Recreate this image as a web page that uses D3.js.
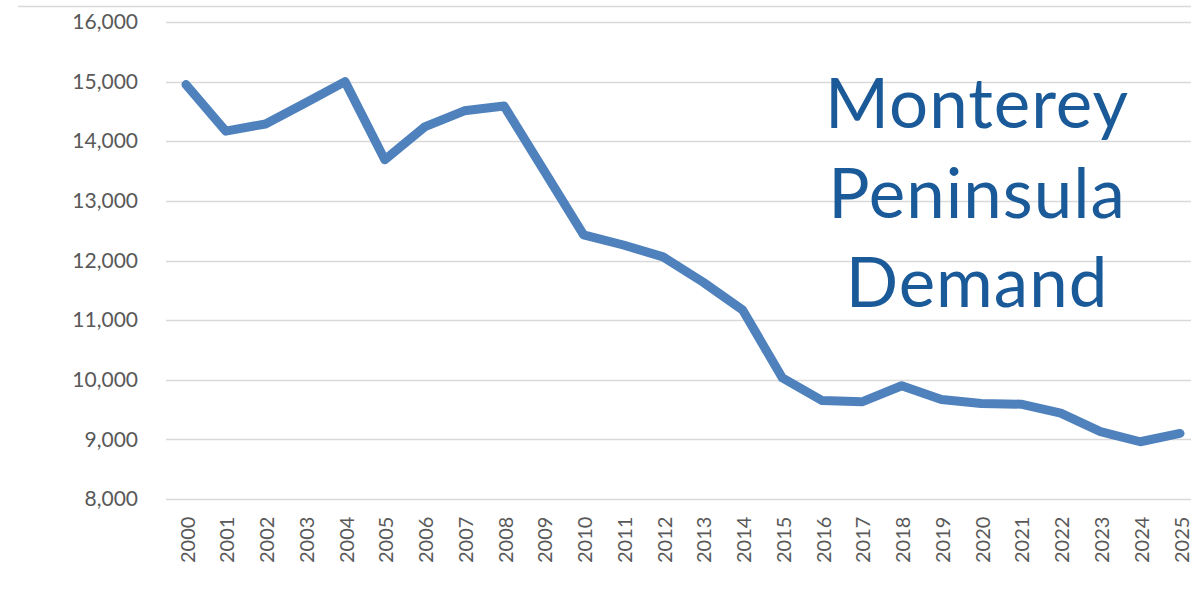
<!DOCTYPE html>
<html>
<head>
<meta charset="utf-8">
<script src="https://cdn.jsdelivr.net/npm/d3@7"></script>
<style>
  html, body { margin: 0; padding: 0; background: #ffffff; }
  svg { display: block; }
</style>
</head>
<body>
<svg id="chart" width="1191" height="606"></svg>
<script>
// Annual demand, Monterey Peninsula
const years = ["2000","2001","2002","2003","2004","2005","2006","2007","2008","2009",
               "2010","2011","2012","2013","2014","2015","2016","2017","2018","2019",
               "2020","2021","2022","2023","2024","2025"];
const demand = [14950, 14170, 14290, 14640, 15000, 13690, 14240, 14510, 14590, 13510,
                12430, 12260, 12060, 11640, 11170, 10030, 9650, 9630, 9900, 9670,
                9600, 9590, 9440, 9130, 8960, 9100];
const yTicks = [8000, 9000, 10000, 11000, 12000, 13000, 14000, 15000, 16000];
const titleLines = ["Monterey", "Peninsula", "Demand"];

const svg = d3.select("#chart");
const W = 1191;
const fontFam = "Lato, 'Open Sans', sans-serif";

// chart frame line at top
svg.append("line")
  .attr("x1", 18).attr("x2", W)
  .attr("y1", 6.5).attr("y2", 6.5)
  .attr("stroke", "#d9d9d9").attr("stroke-width", 1.5);

const plotLeft = 166, plotRight = W;
const x = d3.scalePoint().domain(years).range([186, 1180]);
const y = d3.scaleLinear().domain([8000, 16000]).range([499, 22]);

// gridlines
svg.append("g")
  .selectAll("line")
  .data(yTicks)
  .join("line")
  .attr("x1", plotLeft).attr("x2", plotRight)
  .attr("y1", d => Math.round(y(d)) + 0.5)
  .attr("y2", d => Math.round(y(d)) + 0.5)
  .attr("stroke", "#d9d9d9").attr("stroke-width", 1.5);

// y axis labels
const yAxis = d3.axisLeft(y).tickValues(yTicks).tickFormat(d3.format(",")).tickSize(0).tickPadding(0);
const gy = svg.append("g").attr("transform", "translate(138,0)").call(yAxis);
gy.select(".domain").remove();
gy.selectAll("text")
  .attr("font-family", fontFam).attr("font-size", 21).attr("fill", "#595959");

// x axis labels, rotated to read bottom-up
const xAxis = d3.axisBottom(x).tickSize(0).tickPadding(0);
const gx = svg.append("g").call(xAxis);
gx.select(".domain").remove();
gx.selectAll(".tick text")
  .attr("font-family", fontFam).attr("font-size", 20).attr("fill", "#595959")
  .attr("dy", null)
  .attr("dominant-baseline", "central")
  .attr("transform", "rotate(-90)")
  .attr("x", -563).attr("y", 0)
  .attr("text-anchor", "start");

// demand line
const line = d3.line().x((d, i) => x(years[i])).y(d => y(d));
svg.append("path")
  .datum(demand)
  .attr("d", line)
  .attr("fill", "none")
  .attr("stroke", "#4f81bd")
  .attr("stroke-width", 9)
  .attr("stroke-linejoin", "round")
  .attr("stroke-linecap", "round");

// title block
svg.append("g")
  .selectAll("text")
  .data(titleLines)
  .join("text")
  .attr("x", 977)
  .attr("y", (d, i) => 128 + i * 89.5)
  .attr("text-anchor", "middle")
  .attr("font-family", fontFam)
  .attr("font-size", 69)
  .attr("letter-spacing", 1)
  .attr("fill", "#1b5a98")
  .text(d => d);
</script>
</body>
</html>
